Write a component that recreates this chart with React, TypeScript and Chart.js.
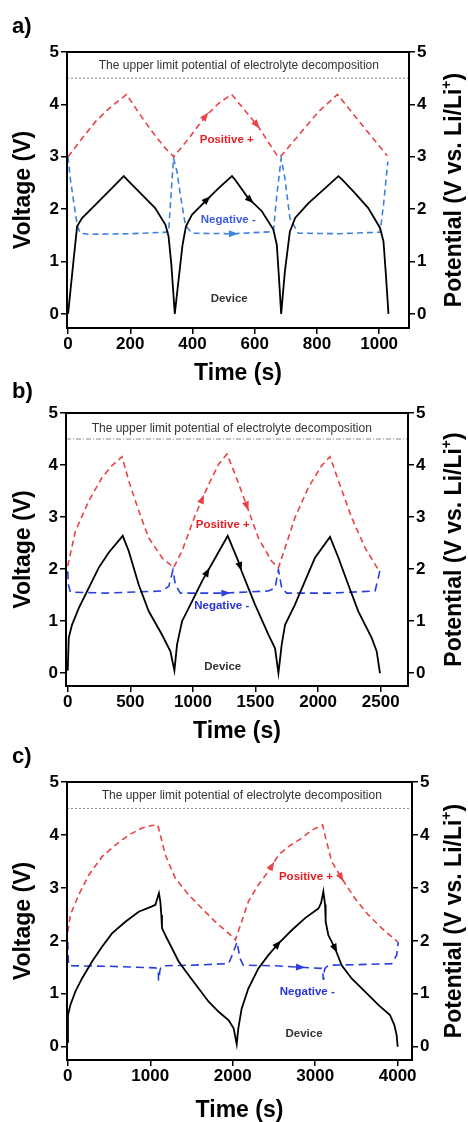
import { useEffect, useRef } from "react";
import { Chart, registerables } from "chart.js";

Chart.register(...registerables);

const FONT = "'Liberation Sans', Arial, Helvetica, sans-serif";

/* ---------- shared ---------- */
const yTickValues = [0, 1, 2, 3, 4, 5];
const limitPotential = 4.5;
const limitText = "The upper limit potential of electrolyte decomposition";
const posText = "Positive +";
const negText = "Negative -";
const devText = "Device";
const xTitle = "Time (s)";
const yTitleLeft = "Voltage (V)";
const yTitleRightMain = "Potential (V vs. Li/Li";
const yTitleRightSup = "+";
const yTitleRightEnd = ")";

/* ---------- panel a ---------- */
const aTimeTicks = [0, 200, 400, 600, 800, 1000];
const aDeviceTime = [0, 18, 29, 45, 77, 109, 141, 179, 195, 238, 280, 313, 323, 332, 343, 356, 368, 379, 398, 441, 484, 527, 537, 579, 623, 660, 671, 678, 685, 697, 713, 730, 772, 815, 869, 882, 923, 965, 1003, 1014, 1021, 1030];
const aDeviceVolt = [0, 1.05, 1.67, 1.83, 2.02, 2.21, 2.4, 2.63, 2.53, 2.27, 2.02, 1.7, 1.48, 0.94, 0, 0.69, 1.32, 1.67, 1.89, 2.15, 2.4, 2.63, 2.56, 2.21, 1.96, 1.61, 1.32, 0.69, 0, 0.81, 1.57, 1.83, 2.11, 2.34, 2.63, 2.56, 2.3, 2.02, 1.64, 1.38, 0.81, 0];
const aPosTime = [0, 45, 88, 131, 188, 227, 270, 313, 340, 388, 441, 484, 526, 537, 612, 671, 683, 751, 805, 866, 923, 976, 1026];
const aPosVolt = [3.0, 3.35, 3.67, 3.92, 4.19, 3.84, 3.48, 3.16, 3.0, 3.35, 3.77, 4.02, 4.19, 4.11, 3.57, 3.03, 3.0, 3.48, 3.86, 4.19, 3.77, 3.38, 3.02];
const aNegTime = [0, 7, 18, 29, 39, 66, 200, 323, 331, 339, 350, 361, 377, 398, 530, 660, 671, 685, 697, 713, 740, 870, 1003, 1014, 1028];
const aNegVolt = [3.0, 2.59, 2.14, 1.7, 1.54, 1.52, 1.53, 1.56, 2.27, 2.97, 2.72, 2.27, 1.7, 1.54, 1.53, 1.57, 2.27, 2.97, 2.59, 1.83, 1.54, 1.53, 1.56, 2.08, 2.91];
const aArrowPos = [441, 606];
const aArrowDev = [446, 585];
const aArrowNeg = [530];
const aLabelAt = { limit: [549, 4.74], pos: [510, 3.33], neg: [515, 1.79], dev: [518, 0.29] };

/* ---------- panel b ---------- */
const bTimeTicks = [0, 500, 1000, 1500, 2000, 2500];
const bDeviceTime = [0, 8, 34, 88, 168, 248, 328, 439, 487, 567, 647, 753, 820, 852, 873, 913, 993, 1073, 1179, 1278, 1363, 1389, 1496, 1603, 1656, 1683, 1709, 1736, 1815, 1895, 1975, 2095, 2162, 2241, 2321, 2428, 2468, 2494];
const bDeviceVolt = [0.05, 0.68, 0.93, 1.25, 1.64, 2.03, 2.32, 2.64, 2.35, 1.7, 1.19, 0.74, 0.42, 0.05, 0.55, 1.0, 1.38, 1.77, 2.22, 2.64, 2.15, 1.96, 1.32, 0.74, 0.48, 0.0, 0.55, 0.93, 1.32, 1.77, 2.22, 2.62, 2.22, 1.7, 1.19, 0.68, 0.42, 0.0];
const bPosTime = [0, 61, 168, 274, 354, 434, 487, 567, 647, 753, 846, 913, 1020, 1126, 1206, 1272, 1336, 1416, 1523, 1629, 1683, 1736, 1815, 1922, 2029, 2095, 2162, 2268, 2375, 2481];
const bPosVolt = [2.06, 2.73, 3.31, 3.76, 3.99, 4.16, 3.7, 3.12, 2.6, 2.22, 2.03, 2.35, 3.05, 3.63, 4.02, 4.21, 3.83, 3.31, 2.6, 2.15, 2.03, 2.41, 2.99, 3.57, 3.99, 4.16, 3.7, 2.99, 2.41, 1.99];
const bNegTime = [0, 5, 21, 300, 753, 807, 840, 860, 900, 1250, 1603, 1656, 1683, 1709, 1749, 2100, 2455, 2487, 2494];
const bNegVolt = [1.96, 1.7, 1.56, 1.54, 1.58, 1.67, 1.98, 1.7, 1.54, 1.54, 1.58, 1.64, 1.99, 1.64, 1.54, 1.54, 1.58, 1.9, 1.99];
const bArrowPos = [1073, 1430];
const bArrowDev = [1113, 1376];
const bArrowNeg = [1259];
const bLabelAt = { limit: [1310, 4.7], pos: [1238, 2.86], neg: [1230, 1.29], dev: [1238, 0.13] };

/* ---------- panel c ---------- */
const cTimeTicks = [0, 1000, 2000, 3000, 4000];
const cDeviceTime = [0, 2, 31, 91, 172, 294, 415, 536, 698, 860, 1021, 1062, 1105, 1122, 1134, 1142, 1182, 1263, 1344, 1466, 1587, 1708, 1829, 1951, 2011, 2048, 2068, 2108, 2189, 2311, 2432, 2554, 2715, 2877, 3038, 3071, 3099, 3120, 3127, 3159, 3240, 3321, 3442, 3604, 3766, 3907, 3960, 3988, 4000];
const cDeviceVolt = [0.09, 0.6, 0.79, 1.04, 1.29, 1.61, 1.89, 2.14, 2.36, 2.55, 2.65, 2.68, 2.9, 2.74, 2.49, 2.24, 2.11, 1.86, 1.61, 1.35, 1.1, 0.85, 0.66, 0.5, 0.35, 0.05, 0.35, 0.72, 1.1, 1.48, 1.73, 1.95, 2.2, 2.43, 2.61, 2.71, 2.93, 2.68, 2.36, 2.11, 1.86, 1.54, 1.29, 1.04, 0.79, 0.6, 0.41, 0.22, 0.0];
const cPosTime = [0, 31, 132, 253, 415, 577, 739, 900, 1021, 1090, 1122, 1183, 1304, 1466, 1627, 1789, 1951, 2032, 2108, 2189, 2311, 2432, 2554, 2675, 2837, 2959, 3090, 3127, 3200, 3321, 3483, 3645, 3806, 4000];
const cPosVolt = [2.17, 2.49, 2.87, 3.24, 3.59, 3.81, 4.0, 4.13, 4.18, 4.19, 4.0, 3.62, 3.18, 2.87, 2.61, 2.36, 2.14, 2.02, 2.36, 2.74, 3.06, 3.31, 3.62, 3.78, 3.94, 4.09, 4.19, 3.94, 3.5, 3.18, 2.8, 2.49, 2.24, 1.98];
const cNegTime = [0, 3, 12, 500, 1062, 1096, 1100, 1108, 1114, 1122, 1142, 1500, 1951, 2011, 2052, 2088, 2128, 2500, 3078, 3092, 3097, 3105, 3112, 3120, 3159, 3500, 3927, 3988, 4008];
const cNegVolt = [1.98, 1.73, 1.53, 1.52, 1.49, 1.47, 1.26, 1.26, 1.42, 1.47, 1.53, 1.54, 1.57, 1.8, 1.98, 1.67, 1.54, 1.53, 1.48, 1.45, 1.28, 1.28, 1.45, 1.48, 1.54, 1.55, 1.57, 1.73, 1.98];
const cArrowPos = [2472, 3313];
const cArrowDev = [2545, 3240];
const cArrowNeg = [2816];
const cLabelAt = { limit: [2109, 4.74], pos: [2888, 3.2], neg: [2904, 1.04], dev: [2864, 0.24] };

/* ---------- panel layout / style ---------- */
const RED = "rgb(234, 66, 70)";
const RED_TEXT = "rgb(232, 30, 36)";

const panels = [
  {
    tag: "a)", tagTop: 13, top: 0, height: 395,
    area: { left: 67, right: 409, top: 52, bottom: 328 },
    xMin: -3.5, xMax: 1096, yMin: -0.27, titlePad: 8,
    ticks: aTimeTicks,
    dev: [aDeviceTime, aDeviceVolt], pos: [aPosTime, aPosVolt], neg: [aNegTime, aNegVolt],
    arrows: { pos: aArrowPos, dev: aArrowDev, neg: aArrowNeg }, labels: aLabelAt,
    negColor: "rgb(62, 130, 222)", negText: "rgb(60, 92, 225)", negDash: [6, 4],
    limitDash: [2, 2],
  },
  {
    tag: "b)", tagTop: 378, top: 380, height: 375,
    area: { left: 66, right: 408, top: 33, bottom: 306 },
    xMin: -14, xMax: 2718, yMin: -0.245, titlePad: 9.5,
    ticks: bTimeTicks,
    dev: [bDeviceTime, bDeviceVolt], pos: [bPosTime, bPosVolt], neg: [bNegTime, bNegVolt],
    arrows: { pos: bArrowPos, dev: bArrowDev, neg: bArrowNeg }, labels: bLabelAt,
    negColor: "rgb(40, 62, 222)", negText: "rgb(40, 50, 215)", negDash: [8, 5],
    limitDash: [5, 2, 1, 2],
  },
  {
    tag: "c)", tagTop: 743, top: 750, height: 380,
    area: { left: 67, right: 412, top: 32, bottom: 310 },
    xMin: -10, xMax: 4174, yMin: -0.25, titlePad: 6,
    ticks: cTimeTicks,
    dev: [cDeviceTime, cDeviceVolt], pos: [cPosTime, cPosVolt], neg: [cNegTime, cNegVolt],
    arrows: { pos: cArrowPos, dev: cArrowDev, neg: cArrowNeg }, labels: cLabelAt,
    negColor: "rgb(40, 62, 222)", negText: "rgb(40, 50, 215)", negDash: [8, 5],
    limitDash: [2, 2],
  },
];

const zip = (t: number[], v: number[]) => t.map((x, i) => ({ x, y: v[i] }));

function Panel({ cfg }: { cfg: any }) {
  const ref = useRef<HTMLCanvasElement>(null);
  useEffect(() => {
    const tickFont = { family: FONT, size: 17, weight: "bold" as const };
    const titleFont = { family: FONT, size: 23, weight: "bold" as const };
    const tickGrid = { display: true, drawOnChartArea: false, drawTicks: true, tickLength: 6, color: "#000", lineWidth: 1.5 };

    const deco = {
      id: "deco",
      afterDraw(chart: any) {
        const { ctx, chartArea: a, scales } = chart;
        const xs = scales.x;
        const ys = scales.y2;
        ctx.save();
        ctx.strokeStyle = "#000";
        ctx.lineWidth = 2;
        ctx.setLineDash([]);
        ctx.strokeRect(a.left, a.top, a.right - a.left, a.bottom - a.top);

        // right axis title, reading bottom to top, with superscript +
        ctx.save();
        ctx.translate(455, (a.top + a.bottom) / 2);
        ctx.rotate(-Math.PI / 2);
        ctx.fillStyle = "#000";
        ctx.textBaseline = "middle";
        ctx.textAlign = "left";
        const mainFont = `bold 23px ${FONT}`;
        const supFont = `bold 14px ${FONT}`;
        ctx.font = mainFont;
        const w1 = ctx.measureText(yTitleRightMain).width;
        const w3 = ctx.measureText(yTitleRightEnd).width;
        ctx.font = supFont;
        const w2 = ctx.measureText(yTitleRightSup).width;
        const total = w1 + w2 + w3;
        let x = -total / 2;
        ctx.font = mainFont;
        ctx.fillText(yTitleRightMain, x, 0);
        x += w1;
        ctx.font = supFont;
        ctx.fillText(yTitleRightSup, x, -8);
        x += w2;
        ctx.font = mainFont;
        ctx.fillText(yTitleRightEnd, x, 0);
        ctx.restore();

        const text = (s: string, p: number[], color: string, weight: string, size: number) => {
          ctx.font = `${weight} ${size}px ${FONT}`;
          ctx.fillStyle = color;
          ctx.textAlign = "center";
          ctx.textBaseline = "middle";
          ctx.fillText(s, xs.getPixelForValue(p[0]), ys.getPixelForValue(p[1]));
        };
        text(limitText, cfg.labels.limit, "#333", "normal", 12);
        text(posText, cfg.labels.pos, RED_TEXT, "bold", 11.5);
        text(negText, cfg.labels.neg, cfg.negText, "bold", 11.5);
        text(devText, cfg.labels.dev, "#333", "bold", 11.5);

        const arrow = (series: number[][], t: number, color: string) => {
          const [T, V] = series;
          let i = 0;
          while (i < T.length - 2 && T[i + 1] < t) i++;
          const x0 = xs.getPixelForValue(T[i]), y0 = ys.getPixelForValue(V[i]);
          const x1 = xs.getPixelForValue(T[i + 1]), y1 = ys.getPixelForValue(V[i + 1]);
          const f = (t - T[i]) / (T[i + 1] - T[i]);
          const px = x0 + (x1 - x0) * f, py = y0 + (y1 - y0) * f;
          const ang = Math.atan2(y1 - y0, x1 - x0);
          ctx.save();
          ctx.translate(px, py);
          ctx.rotate(ang);
          ctx.fillStyle = color;
          ctx.beginPath();
          ctx.moveTo(5, 0);
          ctx.lineTo(-4, -3.5);
          ctx.lineTo(-4, 3.5);
          ctx.closePath();
          ctx.fill();
          ctx.restore();
        };
        cfg.arrows.pos.forEach((t: number) => arrow(cfg.pos, t, RED));
        cfg.arrows.dev.forEach((t: number) => arrow(cfg.dev, t, "#000"));
        cfg.arrows.neg.forEach((t: number) => arrow(cfg.neg, t, cfg.negColor));
        ctx.restore();
      },
    };

    const chart = new Chart(ref.current!, {
      type: "line",
      data: {
        datasets: [
          { data: zip(cfg.dev[0], cfg.dev[1]), yAxisID: "y", borderColor: "#000", borderWidth: 1.8, pointRadius: 0, tension: 0 },
          { data: zip(cfg.pos[0], cfg.pos[1]), yAxisID: "y2", borderColor: RED, borderWidth: 1.6, borderDash: [6, 4], pointRadius: 0, tension: 0 },
          { data: zip(cfg.neg[0], cfg.neg[1]), yAxisID: "y2", borderColor: cfg.negColor, borderWidth: 1.6, borderDash: cfg.negDash, pointRadius: 0, tension: 0 },
          { data: [{ x: cfg.xMin, y: limitPotential }, { x: cfg.xMax, y: limitPotential }], yAxisID: "y2", borderColor: "#8a8a8a", borderWidth: 1, borderDash: cfg.limitDash, pointRadius: 0 },
        ],
      },
      options: {
        responsive: false,
        animation: false,
        events: [],
        layout: { padding: { top: cfg.area.top, left: 0, right: 0, bottom: 0 } },
        plugins: { legend: { display: false }, tooltip: { enabled: false } },
        scales: {
          x: {
            type: "linear", position: "bottom", min: cfg.xMin, max: cfg.xMax,
            afterBuildTicks: (s: any) => { s.ticks = cfg.ticks.map((value: number) => ({ value })); },
            afterFit: (s: any) => { s.height = cfg.height - cfg.area.bottom; },
            grid: tickGrid, border: { display: false },
            ticks: { color: "#000", font: tickFont, padding: 0, maxRotation: 0, autoSkip: false, callback: (v: any) => String(v) },
            title: { display: true, text: xTitle, color: "#000", font: titleFont, padding: { top: 0, bottom: cfg.titlePad } },
          },
          y: {
            type: "linear", position: "left", min: cfg.yMin, max: 5,
            afterBuildTicks: (s: any) => { s.ticks = yTickValues.map((value) => ({ value })); },
            afterFit: (s: any) => { s.width = cfg.area.left; },
            grid: tickGrid, border: { display: false },
            ticks: { color: "#000", font: tickFont, padding: 2, callback: (v: any) => String(v) },
            title: { display: true, text: yTitleLeft, color: "#000", font: titleFont, padding: { top: 10, bottom: 0 } },
          },
          y2: {
            type: "linear", position: "right", min: cfg.yMin, max: 5,
            afterBuildTicks: (s: any) => { s.ticks = yTickValues.map((value) => ({ value })); },
            afterFit: (s: any) => { s.width = 468 - cfg.area.right; },
            grid: tickGrid, border: { display: false },
            ticks: { color: "#000", font: tickFont, padding: 2, callback: (v: any) => String(v) },
            title: { display: false },
          },
        },
      } as any,
      plugins: [deco],
    });
    return () => chart.destroy();
  }, [cfg]);
  return (
    <canvas
      ref={ref}
      width={468}
      height={cfg.height}
      style={{ position: "absolute", left: 0, top: cfg.top, width: 468, height: cfg.height, display: "block" }}
    />
  );
}

export default function App() {
  return (
    <div style={{ position: "absolute", left: 0, top: 0, width: 468, height: 1122, overflow: "hidden", background: "#fff" }}>
      {panels.map((p) => (
        <Panel key={p.tag} cfg={p} />
      ))}
      {panels.map((p) => (
        <div
          key={"t" + p.tag}
          style={{ position: "absolute", left: 12, top: p.tagTop, font: `bold 22px ${FONT}`, color: "#000", lineHeight: "normal" }}
        >
          {p.tag}
        </div>
      ))}
    </div>
  );
}
